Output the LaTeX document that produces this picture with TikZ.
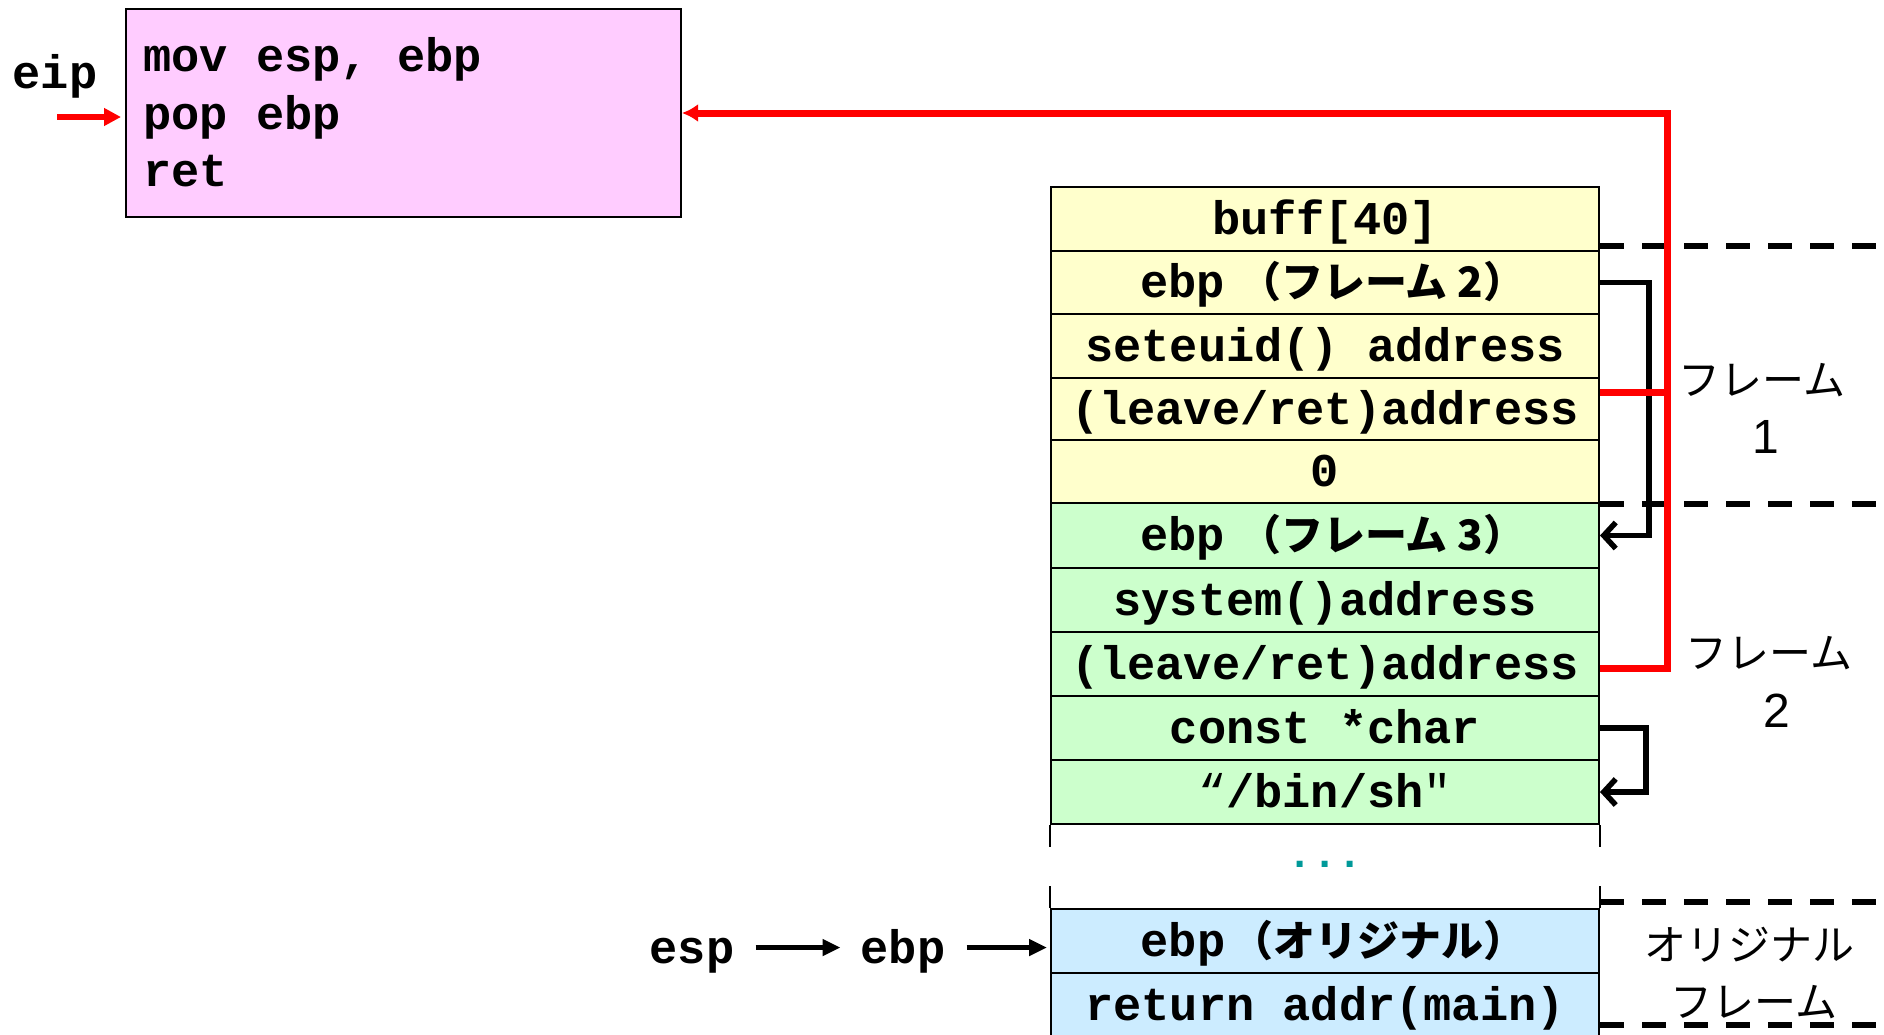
\documentclass[tikz,border=0pt]{standalone}
\usepackage{fontspec}
\setmonofont{Liberation Mono}
\newfontfamily\jpfam{Noto Sans CJK JP}
\newfontfamily\digfam{Liberation Sans}
\usetikzlibrary{arrows.meta}
\definecolor{pinkfill}{HTML}{FFCCFF}
\definecolor{ylw}{HTML}{FFFFCC}
\definecolor{grn}{HTML}{CCFFCC}
\definecolor{blu}{HTML}{CCECFF}
\definecolor{tealdot}{HTML}{009999}
\definecolor{redln}{HTML}{FF0000}
\newcommand\monoB{\ttfamily\bfseries\fontsize{47}{56}\selectfont}
\newcommand\jpB{\jpfam\bfseries\fontsize{42}{50}\selectfont}
\newcommand\jpL{\jpfam\fontsize{42}{50}\selectfont}
\newcommand\digL{\digfam\fontsize{48}{56}\selectfont}
\begin{document}
\begin{tikzpicture}[x=1pt,y=-1pt,
  cell/.style={draw, line width=2pt, minimum width=548pt, inner sep=0pt,
    text height=30pt, text depth=0pt, font=\monoB},
  codeln/.style={font=\monoB, inner sep=0pt, anchor=base west},
  lbl/.style={font=\monoB, inner sep=0pt, text height=31pt, text depth=0pt, anchor=base},
  frm/.style={font=\jpL, inner sep=0pt, anchor=base},
  frmnum/.style={font=\digL, inner sep=0pt, anchor=base},
  dashln/.style={line width=6pt, dash pattern=on 24pt off 18pt},
  blkarr/.style={line width=5pt, -{Triangle[length=18pt,width=16pt]}},
  barbarr/.style={line width=5.5pt, -{Straight Barb[length=12pt,width=26pt]}},
  redline/.style={draw=redln, line width=7pt},
]
\useasboundingbox (0,0) rectangle (1884,1034);

% code box
\node[draw, line width=2pt, fill=pinkfill, minimum width=555pt, minimum height=208pt, inner sep=0pt] (code) at (403.5,113) {};
\node[codeln] (c1) at (143,71) {mov esp, ebp};
\node[codeln] (c2) at (143,129) {pop ebp};
\node[codeln] (c3) at (143,186) {ret};
\node[font=\monoB, inner sep=0pt, anchor=base] (eip) at (55,88) {eip};
\coordinate (eipstart) at (57,117);

% stack
\node[cell, fill=ylw, minimum height=64pt] (r1) at (1325,219) {buff[40]};
\node[cell, fill=ylw, minimum height=63pt] (r2) at (1325,282.5) {\kern16pt ebp\hspace{14pt}{\jpB （フレーム\hspace{10pt}2）}};
\node[cell, fill=ylw, minimum height=64pt] (r3) at (1325,346) {seteuid() address};
\node[cell, fill=ylw, minimum height=62pt] (r4) at (1325,409) {(leave/ret)address};
\node[cell, fill=ylw, minimum height=63pt] (r5) at (1325,471.5) {0};
\node[cell, fill=grn, minimum height=65pt] (r6) at (1325,535.5) {\kern16pt ebp\hspace{14pt}{\jpB （フレーム\hspace{10pt}3）}};
\node[cell, fill=grn, minimum height=64pt] (r7) at (1325,600) {system()address};
\node[cell, fill=grn, minimum height=64pt] (r8) at (1325,664) {(leave/ret)address};
\node[cell, fill=grn, minimum height=64pt] (r9) at (1325,728) {const *char};
\node[cell, fill=grn, minimum height=64pt] (r10) at (1325,792) {{\mdseries “}/bin/sh{\mdseries "}};
\draw[line width=2pt] (r10.south west) -- ++(0,22);
\draw[line width=2pt] (r10.south east) -- ++(0,22);
\node[font=\ttfamily\bfseries\fontsize{42}{50}\selectfont, text=tealdot, inner sep=0pt, anchor=base] (dots) at (1325,867) {...};
\node[cell, fill=blu, minimum height=64pt] (b1) at (1325,941) {\kern16pt ebp\hspace{6pt}{\jpB （オリジナル）}};
\node[cell, fill=blu, minimum height=64pt] (b2) at (1325,1005) {return addr(main)};
\draw[line width=2pt] (b1.north west) -- ++(0,-22);
\draw[line width=2pt] (b1.north east) -- ++(0,-22);

% frame labels
\node[frm] (f1a) at (1762,395) {フレーム};
\node[frmnum] (f1b) at (1766,453) {1};
\node[frm] (f2a) at (1769,668) {フレーム};
\node[frmnum] (f2b) at (1777,727) {2};
\node[frm] (f3a) at (1749,960) {オリジナル};
\node[frm] (f3b) at (1754,1017) {フレーム};

% dashed separators
\draw[dashln] ([yshift=6pt]r1.south east) -- ++(288,0);
\draw[dashln] (r5.south east) -- ++(288,0);
\draw[dashln] ([yshift=6pt]b1.north east) -- ++(288,0);
\draw[dashln] ([yshift=-53pt]b2.north east) -- ++(288,0);

% esp / ebp pointers
\node[lbl] (esp) at (692,963) {esp};
\node[lbl] (ebp) at (903,963) {ebp};
\draw[blkarr, shorten <=21pt, shorten >=20pt] (esp.east) -- (ebp.west);
\draw[blkarr, shorten <=21pt, shorten >=3pt] (ebp.east) -- (ebp.east -| b1.west);

% black pointer arrows
\draw[barbarr] (r2.east) -- ++(49,0) |- (r6.east);
\draw[barbarr] (r9.east) -- ++(46,0) |- (r10.east);

% red return path
\coordinate (rc) at (1667,113);
\path ([yshift=17pt]r4.east) coordinate (r4r);
\draw[redline] (r4r) -- (r4r -| rc);
\draw[redline, -{Latex[length=16pt,width=18pt]}] ([yshift=-4pt]r8.east) -| (rc) -- (code.east);
\draw[redline, line width=6pt, -{Triangle[length=17pt,width=17pt]}, shorten >=4pt] (eipstart) -- (code.west |- eipstart);
\end{tikzpicture}
\end{document}
